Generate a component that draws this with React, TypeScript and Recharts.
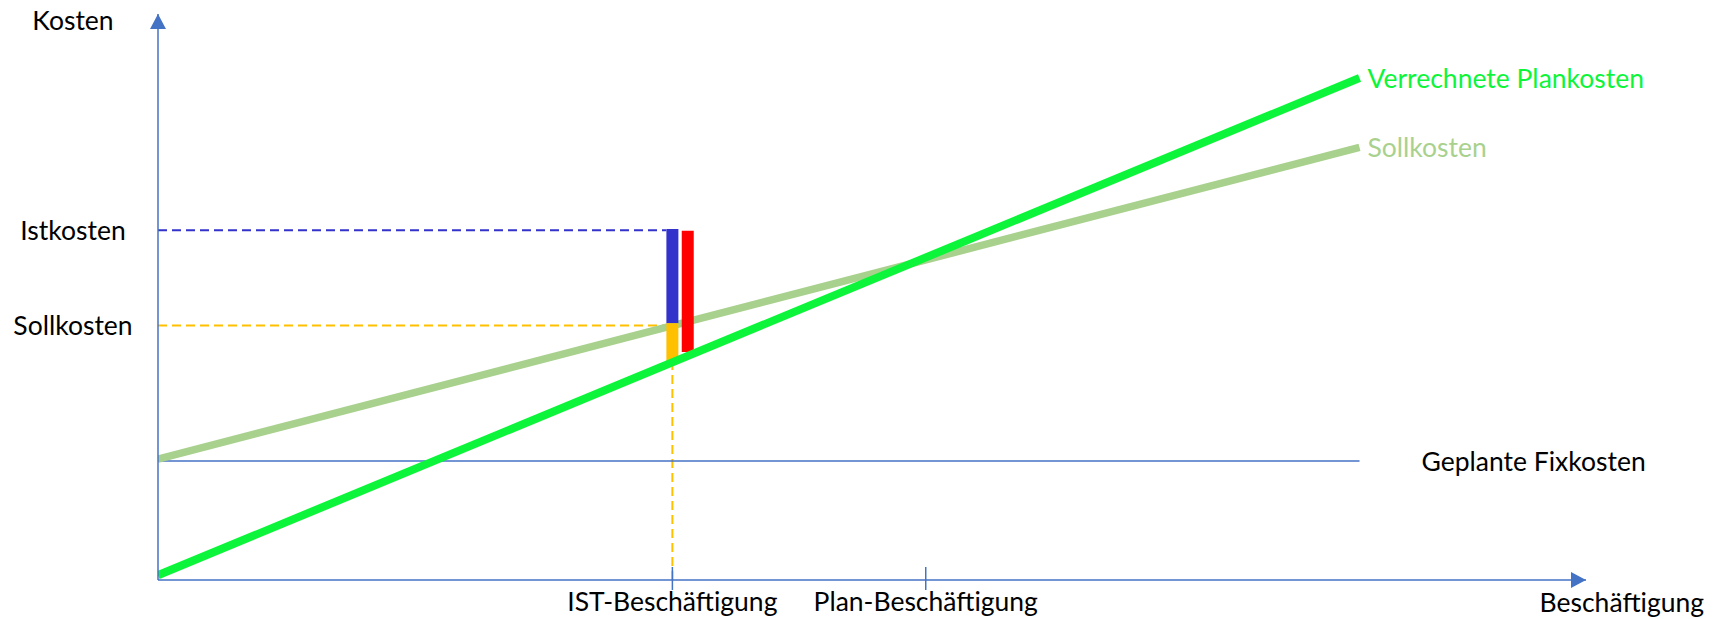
import React from 'react';
import {
  ComposedChart,
  Line,
  XAxis,
  YAxis,
  ReferenceLine,
  ReferenceDot,
  LabelList,
  Label,
} from 'recharts';

// Beschäftigung (x) – Endpunkte der Kostengeraden
const beschaeftigung = [0, 156.5];
const verrechnetePlankosten = [1.5, 157];
const sollkosten = [37.8, 135.3];
const fixkosten = [37.2, 37.2];

// Kennwerte
const istBeschaeftigung = 67;
const planBeschaeftigung = 100;
const istKosten = 109.4;
const sollBeiIst = 79.6;
const verrechnetBeiIst = 68.1;

// Abweichungsbalken [von, bis]
const blauerBalken = [80.3, 109.8];
const orangerBalken = [68.1, 80.3];
const roterBalken = [71.3, 109.2];
const roterBalkenX = 69;

const xTicks = [istBeschaeftigung, planBeschaeftigung];
const xTickLabels = ['IST-Beschäftigung', 'Plan-Beschäftigung'];
const yTicks = [istKosten, sollBeiIst];
const yTickLabels = ['Istkosten', 'Sollkosten'];

const X_MAX = 186;
const Y_MAX = 177;

const FONT = 'Lato, sans-serif';
const FS = 26.5;
const AXIS = '#4472C4';
const GREEN = '#0DF53A';
const LIGHT_GREEN = '#A9D18E';

const chartData = beschaeftigung.map((x, i) => ({
  x,
  verrechnet: verrechnetePlankosten[i],
  soll: sollkosten[i],
  fix: fixkosten[i],
}));

const XTick = (props: any) => {
  const { x, y, payload } = props;
  const idx = xTicks.indexOf(payload.value);
  return (
    <g>
      <line x1={x} x2={x} y1={y - 13} y2={y + 10} stroke={AXIS} strokeWidth={1.5} />
      <text x={x} y={y + 21} textAnchor="middle" dominantBaseline="central" fontFamily={FONT} fontSize={FS} fill="#000">
        {xTickLabels[idx]}
      </text>
    </g>
  );
};

const YTick = (props: any) => {
  const { x, y, payload } = props;
  const idx = yTicks.indexOf(payload.value);
  return (
    <text x={x - 85} y={y} textAnchor="middle" dominantBaseline="central" fontFamily={FONT} fontSize={FS} fill="#000">
      {yTickLabels[idx]}
    </text>
  );
};

const endLabel = (text: string, color: string, dx: number) => (props: any) => {
  const { x, y, index } = props;
  if (index !== beschaeftigung.length - 1) return null;
  return (
    <text x={x + dx} y={y} dominantBaseline="central" fontFamily={FONT} fontSize={FS} fill={color}>
      {text}
    </text>
  );
};

const ArrowUp = (props: any) => {
  const { cx, cy } = props;
  return <polygon points={`${cx},${cy} ${cx - 8},${cy + 15} ${cx + 8},${cy + 15}`} fill={AXIS} />;
};

const ArrowRight = (props: any) => {
  const { cx, cy } = props;
  return <polygon points={`${cx},${cy} ${cx - 15},${cy - 8} ${cx - 15},${cy + 8}`} fill={AXIS} />;
};

const App: React.FC = () => {
  return (
    <div style={{ position: 'absolute', left: 0, top: 0, background: '#fff' }}>
      <ComposedChart
        width={1719}
        height={619}
        data={chartData}
        margin={{ top: 14, right: 133, left: 0, bottom: 0 }}
      >
        <XAxis
          type="number"
          dataKey="x"
          domain={[0, X_MAX]}
          ticks={xTicks}
          tick={(p: any) => <XTick {...p} />}
          tickLine={false}
          tickSize={0}
          tickMargin={0}
          height={39}
          axisLine={{ stroke: AXIS, strokeWidth: 1.5 }}
          allowDataOverflow
        >
          <Label
            content={(p: any) => {
              const vb = p.viewBox;
              return (
                <text x={vb.x + vb.width + 118} y={vb.y + 22} textAnchor="end" dominantBaseline="central" fontFamily={FONT} fontSize={FS} fill="#000">
                  Beschäftigung
                </text>
              );
            }}
          />
        </XAxis>
        <YAxis
          type="number"
          domain={[0, Y_MAX]}
          ticks={yTicks}
          tick={(p: any) => <YTick {...p} />}
          tickLine={false}
          tickSize={0}
          tickMargin={0}
          width={158}
          axisLine={{ stroke: AXIS, strokeWidth: 1.5 }}
          allowDataOverflow
        >
          <Label
            content={(p: any) => {
              const vb = p.viewBox;
              return (
                <text x={vb.x + 73} y={vb.y + 6} textAnchor="middle" dominantBaseline="central" fontFamily={FONT} fontSize={FS} fill="#000">
                  Kosten
                </text>
              );
            }}
          />
        </YAxis>

        {/* Hilfslinien */}
        <ReferenceLine
          segment={[{ x: 0, y: istKosten }, { x: istBeschaeftigung - 0.8, y: istKosten }]}
          stroke="#3333CC"
          strokeWidth={2}
          strokeDasharray="9 5"
        />
        <ReferenceLine
          segment={[{ x: 0, y: sollBeiIst }, { x: istBeschaeftigung - 0.8, y: sollBeiIst }]}
          stroke="#FFC000"
          strokeWidth={2}
          strokeDasharray="9 5"
        />
        <ReferenceLine
          segment={[{ x: istBeschaeftigung, y: 0 }, { x: istBeschaeftigung, y: verrechnetBeiIst }]}
          stroke="#FFC000"
          strokeWidth={2}
          strokeDasharray="9 5"
        />

        <Line
          type="linear"
          dataKey="fix"
          stroke={AXIS}
          strokeWidth={1.5}
          dot={false}
          isAnimationActive={false}
        >
          <LabelList dataKey="fix" content={endLabel('Geplante Fixkosten', '#000', 62)} />
        </Line>
        <Line
          type="linear"
          dataKey="soll"
          stroke={LIGHT_GREEN}
          strokeWidth={7.5}
          dot={false}
          isAnimationActive={false}
        >
          <LabelList dataKey="soll" content={endLabel('Sollkosten', LIGHT_GREEN, 8)} />
        </Line>

        {/* Abweichungen */}
        <ReferenceLine
          segment={[{ x: istBeschaeftigung, y: blauerBalken[0] }, { x: istBeschaeftigung, y: blauerBalken[1] }]}
          stroke="#3333CC"
          strokeWidth={12}
        />
        <ReferenceLine
          segment={[{ x: istBeschaeftigung, y: orangerBalken[0] }, { x: istBeschaeftigung, y: orangerBalken[1] }]}
          stroke="#FFC000"
          strokeWidth={12}
        />
        <ReferenceLine
          segment={[{ x: roterBalkenX, y: roterBalken[0] }, { x: roterBalkenX, y: roterBalken[1] }]}
          stroke="#FF0000"
          strokeWidth={12}
        />

        <Line
          type="linear"
          dataKey="verrechnet"
          stroke={GREEN}
          strokeWidth={8}
          dot={false}
          isAnimationActive={false}
        >
          <LabelList dataKey="verrechnet" content={endLabel('Verrechnete Plankosten', GREEN, 8)} />
        </Line>

        <ReferenceDot x={0} y={Y_MAX} r={0} shape={(p: any) => <ArrowUp {...p} />} ifOverflow="visible" />
        <ReferenceDot x={X_MAX} y={0} r={0} shape={(p: any) => <ArrowRight {...p} />} ifOverflow="visible" />
      </ComposedChart>
    </div>
  );
};

export default App;
